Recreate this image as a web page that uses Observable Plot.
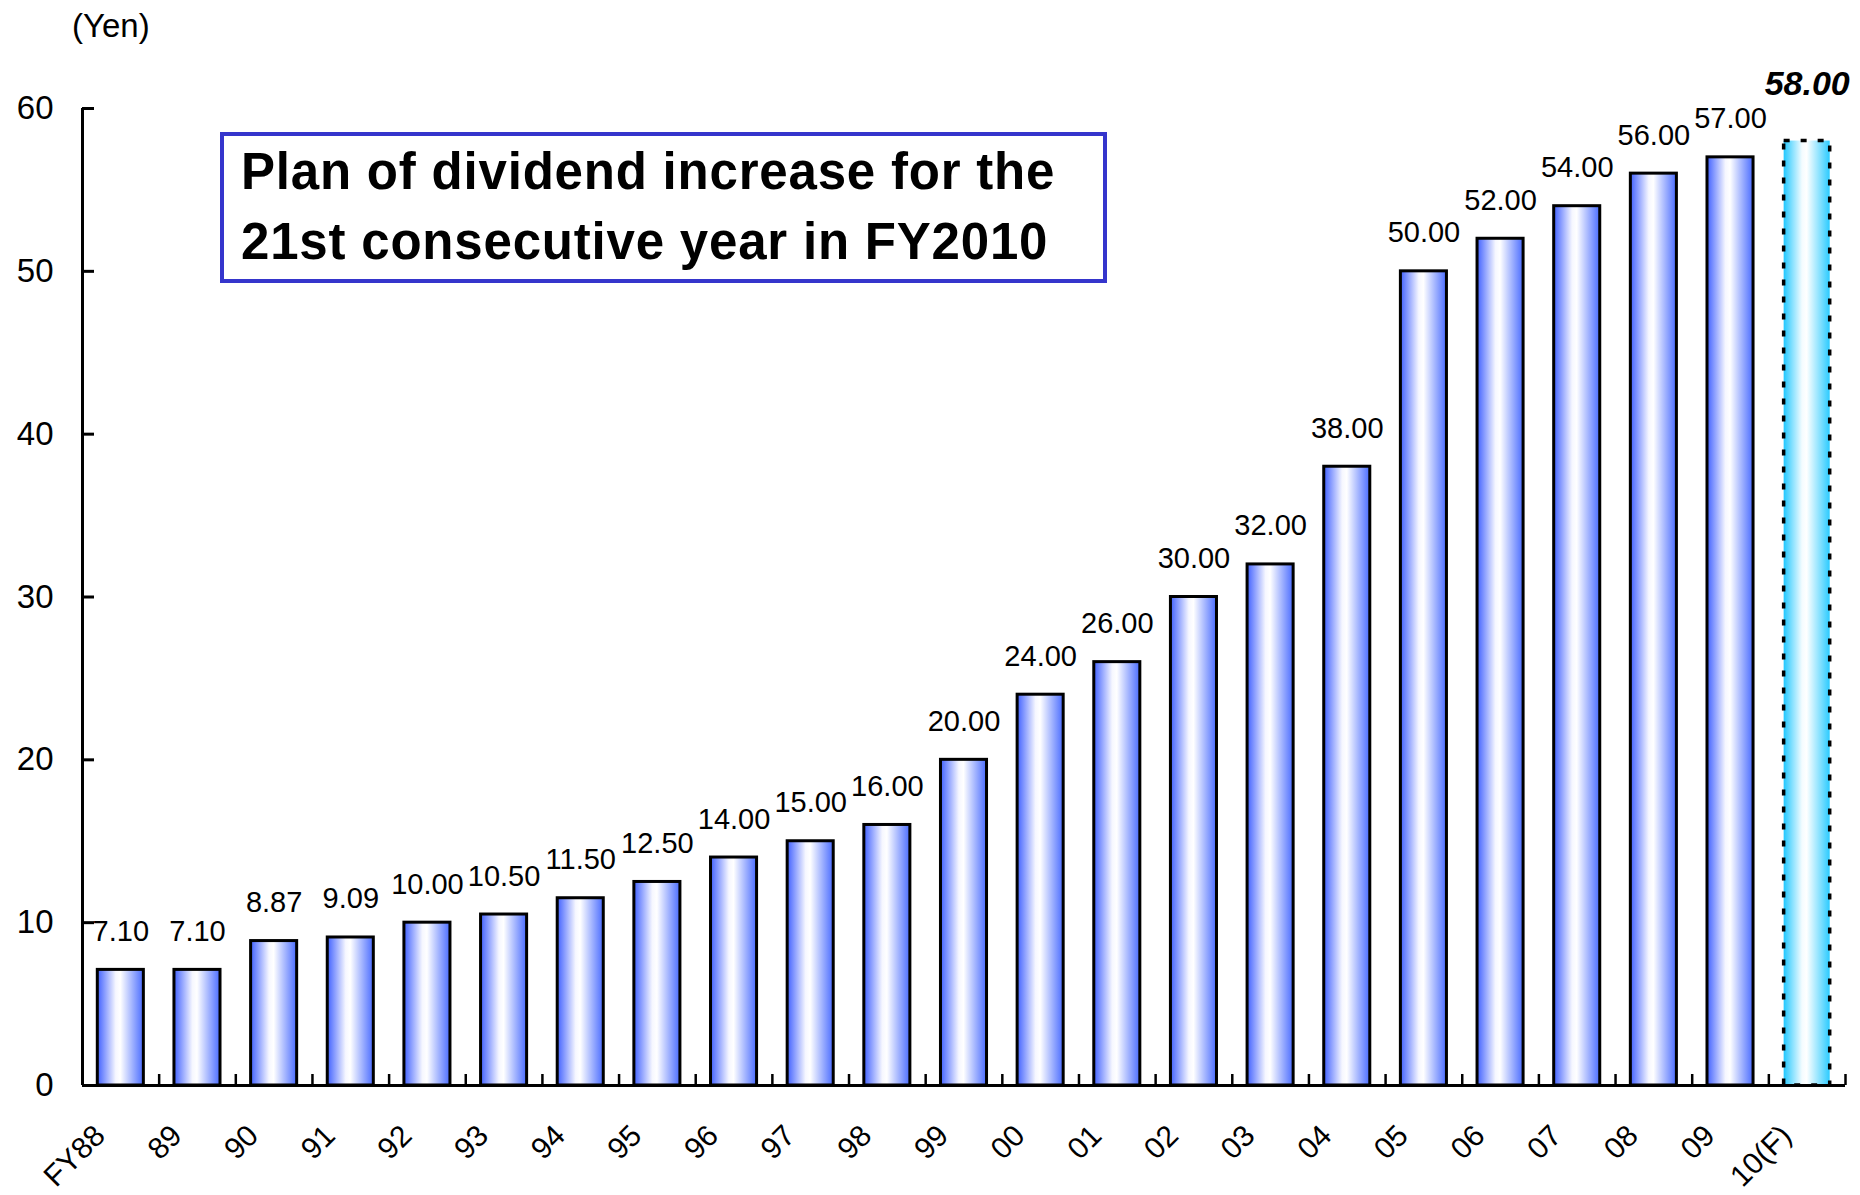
<!DOCTYPE html>
<html>
<head>
<meta charset="utf-8">
<script src="https://cdn.jsdelivr.net/npm/d3@7"></script>
<script src="https://cdn.jsdelivr.net/npm/@observablehq/plot@0.6"></script>
<style>
html, body { margin: 0; padding: 0; background: #fff; }
#wrap { position: relative; width: 1860px; height: 1195px; font-family: Arial, "Liberation Sans", sans-serif; color: #000; }
#wrap svg { position: absolute; left: 0; top: 0; }
#yen { position: absolute; left: 72px; top: 9px; font-size: 33px; line-height: 33px; }
#note { position: absolute; left: 220px; top: 132px; width: 887px; height: 151px; box-sizing: border-box;
  border: 4px solid #3535cc; background: #fff; font-weight: bold; font-size: 51px; letter-spacing: 0.8px;
  line-height: 70px; padding-left: 17px; padding-top: 1px; white-space: nowrap; }
</style>
</head>
<body>
<div id="wrap">
  <div id="chart"></div>
  <div id="yen">(Yen)</div>
  <div id="note">Plan of dividend increase for the<br>21st consecutive year in FY2010</div>
</div>
<script>
// ---- data ----
const categories = ["FY88","89","90","91","92","93","94","95","96","97","98","99","00","01","02","03","04","05","06","07","08","09","10(F)"];
const dividends  = [7.10, 7.10, 8.87, 9.09, 10.00, 10.50, 11.50, 12.50, 14.00, 15.00, 16.00, 20.00, 24.00, 26.00, 30.00, 32.00, 38.00, 50.00, 52.00, 54.00, 56.00, 57.00, 58.00];
const isForecast = [false,false,false,false,false,false,false,false,false,false,false,false,false,false,false,false,false,false,false,false,false,false,true];
const yTicks = [0, 10, 20, 30, 40, 50, 60];

const data = categories.map((c, i) => ({i, category: c, value: dividends[i], forecast: isForecast[i]}));
const actual = data.filter(d => !d.forecast);
const forecast = data.filter(d => d.forecast);
const boundaries = d3.range(1, categories.length + 1);

const font = 'Arial, "Liberation Sans", sans-serif';
const inset = 15.3;

const chart = Plot.plot({
  width: 1860,
  height: 1195,
  marginLeft: 82,
  marginRight: 15,
  marginTop: 108,
  marginBottom: 110,
  style: {fontFamily: font, fontSize: "29px", color: "#000", background: "transparent", overflow: "visible"},
  x: {domain: [0, categories.length]},
  y: {domain: [0, 60]},
  marks: [
    Plot.rectY(actual, {x1: d => d.i, x2: d => d.i + 1, y: "value", insetLeft: inset, insetRight: inset,
      fill: "url(#barGrad)", stroke: "#000", strokeWidth: 3}),
    Plot.rectY(forecast, {x1: d => d.i, x2: d => d.i + 1, y: "value", insetLeft: inset, insetRight: inset,
      fill: "url(#fcGrad)", stroke: "#000", strokeWidth: 3.5, strokeDasharray: "6 11"}),
    Plot.text(actual, {x: d => d.i + 0.5, y: "value", text: d => d.value.toFixed(2),
      dy: -29, lineAnchor: "bottom", fontSize: 29, fill: "#000"}),
    Plot.text(forecast, {x: d => d.i + 0.5, y: "value", text: d => d.value.toFixed(2),
      dy: -46, lineAnchor: "bottom", fontSize: 34, fontWeight: "bold", fontStyle: "italic", fill: "#000"}),
    Plot.ruleY([0], {stroke: "#000", strokeWidth: 3}),
    Plot.ruleX([0], {y1: 0, y2: 60, stroke: "#000", strokeWidth: 3}),
    Plot.axisY(yTicks, {anchor: "left", tickSize: -12, tickFormat: () => "", label: null, strokeWidth: 3}),
    Plot.axisY(yTicks, {anchor: "left", tickSize: 0, tickPadding: 29, fontSize: 33, label: null}),
    Plot.axisX(boundaries, {anchor: "bottom", tickSize: -11, tickFormat: () => "", label: null, strokeWidth: 2.5}),
    Plot.text(data, {x: d => d.i + 0.5, frameAnchor: "bottom", text: "category", rotate: -45,
      textAnchor: "end", lineAnchor: "bottom", dx: -14, dy: 52, fontSize: 30, fill: "#000"})
  ]
});

// gradients for bar fills
const defs = d3.select(chart).insert("defs", ":first-child");
function gradient(id, stops) {
  const g = defs.append("linearGradient").attr("id", id)
    .attr("x1", "0").attr("x2", "1").attr("y1", "0").attr("y2", "0");
  stops.forEach(([o, c]) => g.append("stop").attr("offset", o).attr("stop-color", c));
}
gradient("barGrad", [[0, "#4060ff"], [0.4, "#f6f7ff"], [0.5, "#ffffff"], [1, "#4a6cff"]]);
gradient("fcGrad", [[0, "#22c8ff"], [0.4, "#f4fcff"], [0.5, "#ffffff"], [1, "#2ccbff"]]);

document.getElementById("chart").appendChild(chart);
</script>
</body>
</html>
